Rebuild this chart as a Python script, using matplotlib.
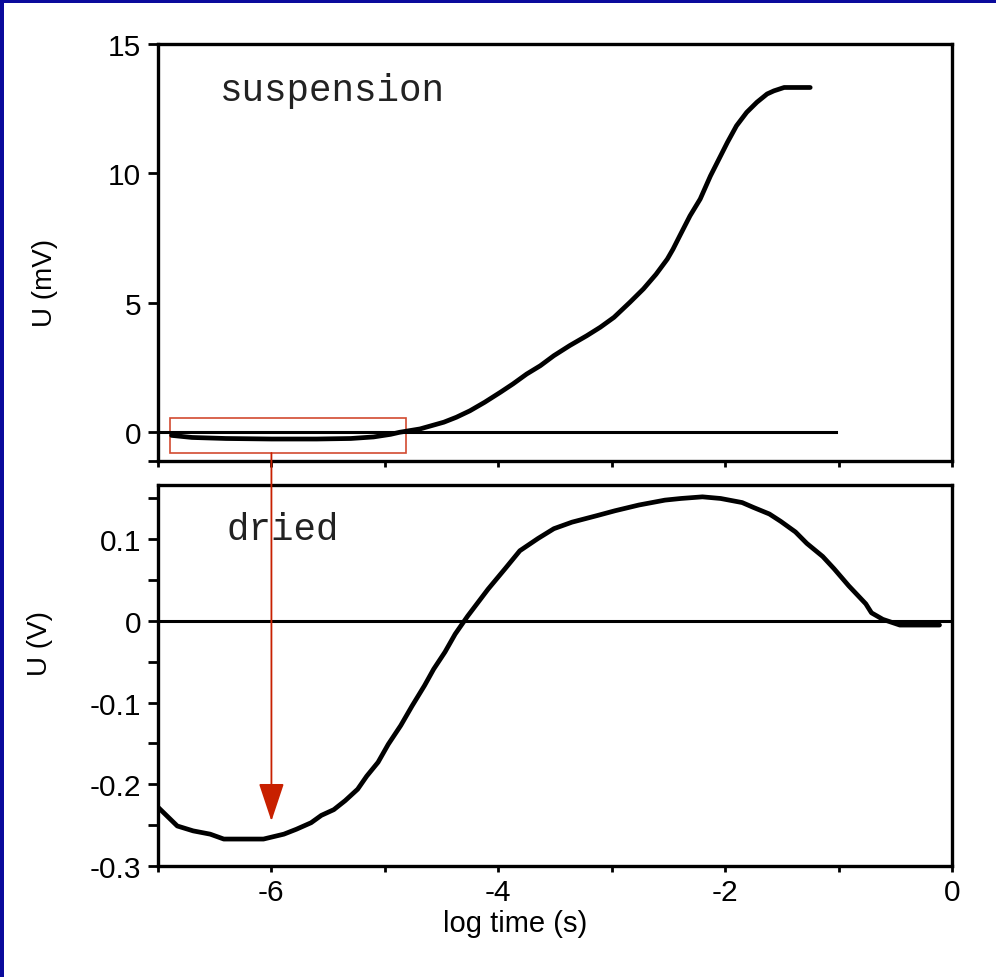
import matplotlib
matplotlib.use("Agg")
import matplotlib.pyplot as plt
from matplotlib.patches import Rectangle, ConnectionPatch

plt.rcParams["font.family"] = ["Liberation Sans", "DejaVu Sans"]
plt.rcParams["axes.unicode_minus"] = False

# suspension signal (mV) vs log time
susp_x = [-6.88, -6.7, -6.4, -6.0, -5.6, -5.3, -5.1, -4.95, -4.87, -4.69, -4.48,
          -4.37, -4.25, -4.12, -3.98, -3.87, -3.75, -3.63, -3.51, -3.37, -3.22,
          -3.10, -2.98, -2.84, -2.72, -2.61, -2.51, -2.46, -2.40, -2.31, -2.22,
          -2.13, -2.04, -1.98, -1.90, -1.81, -1.72, -1.63, -1.57, -1.48, -1.25]
susp_y = [-0.12, -0.2, -0.24, -0.26, -0.26, -0.24, -0.18, -0.08, 0.0, 0.13, 0.39,
          0.58, 0.83, 1.16, 1.55, 1.87, 2.25, 2.57, 2.96, 3.35, 3.73,
          4.06, 4.44, 5.02, 5.54, 6.1, 6.69, 7.07, 7.59, 8.36, 9.01,
          9.9, 10.68, 11.2, 11.84, 12.36, 12.75, 13.07, 13.19, 13.32, 13.32]
susp_zero_x = [-7.0, -1.02]

# dried signal (V) vs log time
dried_x = [-7.0, -6.83, -6.69, -6.54, -6.42, -6.25, -6.07, -5.89, -5.78, -5.65,
           -5.56, -5.45, -5.35, -5.24, -5.16, -5.06, -4.97, -4.86, -4.76, -4.65,
           -4.57, -4.47, -4.38, -4.27, -4.09, -3.94, -3.81, -3.65, -3.51, -3.35,
           -3.13, -2.97, -2.76, -2.53, -2.39, -2.20, -2.04, -1.85, -1.75, -1.61,
           -1.51, -1.38, -1.28, -1.14, -1.04, -0.91, -0.76, -0.71, -0.61, -0.46, -0.11]
dried_y = [-0.228, -0.251, -0.257, -0.261, -0.267, -0.267, -0.267, -0.261, -0.255, -0.247,
           -0.238, -0.231, -0.220, -0.206, -0.190, -0.173, -0.151, -0.128, -0.104, -0.079,
           -0.059, -0.038, -0.016, 0.006, 0.039, 0.064, 0.086, 0.101, 0.113, 0.121,
           0.129, 0.135, 0.142, 0.148, 0.150, 0.152, 0.150, 0.145, 0.139, 0.131,
           0.122, 0.109, 0.095, 0.079, 0.064, 0.043, 0.021, 0.010, 0.002, -0.005, -0.005]

top_yticks = [0, 5, 10, 15]
bot_yticks = [-0.3, -0.2, -0.1, 0, 0.1]
bot_ylabels = ["-0.3", "-0.2", "-0.1", "0", "0.1"]
bot_xticks = [-6, -4, -2, 0]
bot_xlabels = ["-6", "-4", "-2", "0"]

W, H = 996, 978
fig = plt.figure(figsize=(W / 100, H / 100), dpi=100)
fig.patch.set_facecolor("white")

# blue frame on the left and top edges
blue = "#0a0a9c"
fig.add_artist(Rectangle((0, 0), 3.5 / W, 1, transform=fig.transFigure, color=blue, lw=0))
fig.add_artist(Rectangle((0, 1 - 3.5 / H), 1, 3.5 / H, transform=fig.transFigure, color=blue, lw=0))

ax1 = fig.add_axes([158 / W, 1 - 461.5 / H, 794 / W, 416.5 / H])
ax2 = fig.add_axes([158 / W, 1 - 867 / H, 794 / W, 381 / H])

for ax in (ax1, ax2):
    for s in ax.spines.values():
        s.set_linewidth(2.4)
    ax.set_xlim(-7, 0)
    ax.tick_params(axis="y", direction="out", length=7, width=2, labelsize=21.5, pad=5)
    ax.tick_params(axis="x", which="both", direction="out", length=4, width=2, labelsize=21.5, pad=5)
    ax.tick_params(axis="y", which="minor", direction="out", length=7, width=2)

# top panel
ax1.plot(susp_zero_x, [0, 0], color="black", lw=2.2)
ax1.plot(susp_x, susp_y, color="black", lw=3.4, solid_capstyle="round", solid_joinstyle="round")
ax1.set_ylim(-1.09, 15)
ax1.set_yticks(top_yticks)
ax1.set_yticks([-1.09], minor=True)
ax1.set_xticks([-7, -6, -5, -4, -3, -2, -1, 0])
ax1.set_xticklabels([])
ax1.text(-6.45, 12.85, "suspension", family="Liberation Mono", fontsize=27, color="#222222",
         va="baseline")
ax1.add_patch(Rectangle((-6.894, -0.80), 2.078, 1.353, fill=False, edgecolor="#d24a30",
                        lw=1.2, clip_on=False))

# bottom panel
ax2.axhline(0, color="black", lw=2.2)
ax2.plot(dried_x, dried_y, color="black", lw=3.4, solid_capstyle="round", solid_joinstyle="round")
ax2.set_ylim(-0.3, 0.1665)
ax2.set_yticks(bot_yticks)
ax2.set_yticklabels(bot_ylabels)
ax2.set_yticks([-0.25, -0.15, -0.05, 0.05, 0.15], minor=True)
ax2.set_xticks(bot_xticks)
ax2.set_xticklabels(bot_xlabels)
ax2.set_xticks([-7, -5, -3, -1], minor=True)
ax2.text(-6.4, 0.1005, "dried", family="Liberation Mono", fontsize=27, color="#222222",
         va="baseline")

# arrow from the boxed region down to the dried curve
arrow = ConnectionPatch(xyA=(-6, -0.80), coordsA=ax1.transData,
                        xyB=(-6, -0.245), coordsB=ax2.transData,
                        arrowstyle="-|>,head_length=24,head_width=8",
                        mutation_scale=1, color="#c82000", lw=1.3)
fig.add_artist(arrow)

fig.text(515 / W, 1 - 924 / H, "log time (s)", fontsize=21, ha="center", va="center")
fig.text(45 / W, 1 - 283 / H, "U (mV)", fontsize=20, rotation=90, ha="center", va="center")
fig.text(40 / W, 1 - 643 / H, "U (V)", fontsize=20, rotation=90, ha="center", va="center")

fig.savefig("out.png", dpi=100)
